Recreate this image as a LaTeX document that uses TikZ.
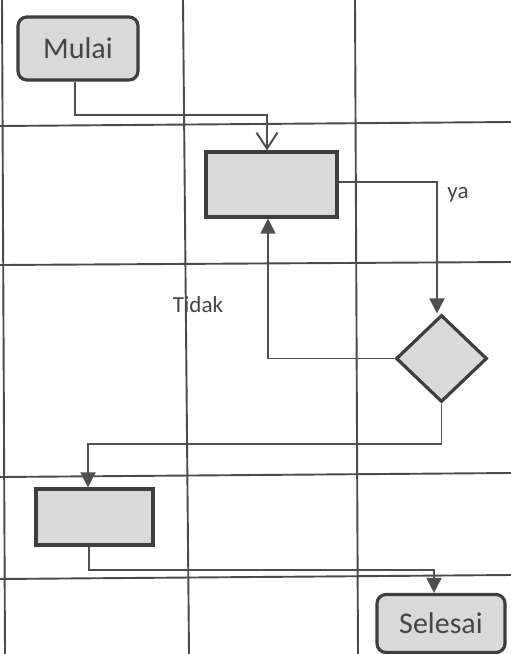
\documentclass[tikz,border=0pt]{standalone}
\usepackage{fontspec}
\setmainfont{Carlito}
\usetikzlibrary{arrows.meta,shapes.geometric}
\definecolor{gridc}{HTML}{4A4A4A}
\definecolor{boxfill}{HTML}{D9D9D9}
\definecolor{boxline}{HTML}{3E3E3E}
\definecolor{linec}{HTML}{4F4F4F}
\definecolor{txtc}{HTML}{454545}
\tikzset{
  gridline/.style={draw=gridc, line width=1.9pt},
  procbox/.style={draw=boxline, fill=boxfill, line width=3.2pt, inner sep=0pt},
  termbox/.style={procbox, rounded corners=9pt, text=txtc, font=\fontsize{30}{33}\selectfont},
  decbox/.style={draw=boxline, fill=boxfill, line width=3.2pt, diamond, inner sep=0pt},
  conn/.style={draw=linec, line width=1.9pt},
  filltip/.style={-{Triangle[length=15pt,width=15pt]}},
  opentip/.style={-{Straight Barb[length=16pt,width=21pt,line width=2pt]}},
  lbl/.style={text=txtc, font=\fontsize{23}{26}\selectfont, inner sep=0pt}
}
\begin{document}
\begin{tikzpicture}[x=1pt,y=-1pt]
\useasboundingbox (0,0) rectangle (511,654);
% grid
\draw[gridline] (2,0) -- (5,654);
\draw[gridline] (183,0) -- (189,654);
\draw[gridline] (355,0) -- (358,654);
\draw[gridline] (0,126) -- (511,122);
\draw[gridline] (0,265) -- (511,262);
\draw[gridline] (0,477) -- (511,473);
\draw[gridline] (0,579) -- (511,575);
% nodes
\node[termbox, minimum width=120pt, minimum height=63pt] (mulai) at (78,48.5) {Mulai};
\node[procbox, minimum width=131pt, minimum height=65pt] (p1) at (271.5,184.5) {};
\node[decbox, minimum width=91pt, minimum height=87pt] (dec) at (441.5,358.5) {};
\node[procbox, minimum width=117pt, minimum height=56pt] (p2) at (94.5,517) {};
\node[termbox, minimum width=128pt, minimum height=58pt] (selesai) at (441,623.5) {Selesai};
\node[lbl] (ya) at (458,195) {ya};
\node[lbl] (tidak) at (198,305) {Tidak};
% connector waypoints
\coordinate (a1) at (75,115);
\coordinate (a2) at (267,115);
\coordinate (b1) at (437,182);
\coordinate (c1) at (268,358.5);
\coordinate (d1) at (441.5,444);
\coordinate (d2) at (88,444);
\coordinate (e1) at (89,570);
\coordinate (e2) at (434,570);
% connectors
\draw[conn, opentip] (mulai.south -| a1) -- (a1) -- (a2) -- (a2 |- p1.north);
\draw[conn, filltip] (p1.east |- b1) -- (b1) -- (b1 |- dec.north);
\draw[conn, filltip] (dec.west) -- (c1) -- (c1 |- p1.south);
\draw[conn, filltip] (dec.south) -- (d1) -- (d2) -- (d2 |- p2.north);
\draw[conn, filltip] (p2.south -| e1) -- (e1) -- (e2) -- (e2 |- selesai.north);
\end{tikzpicture}
\end{document}
